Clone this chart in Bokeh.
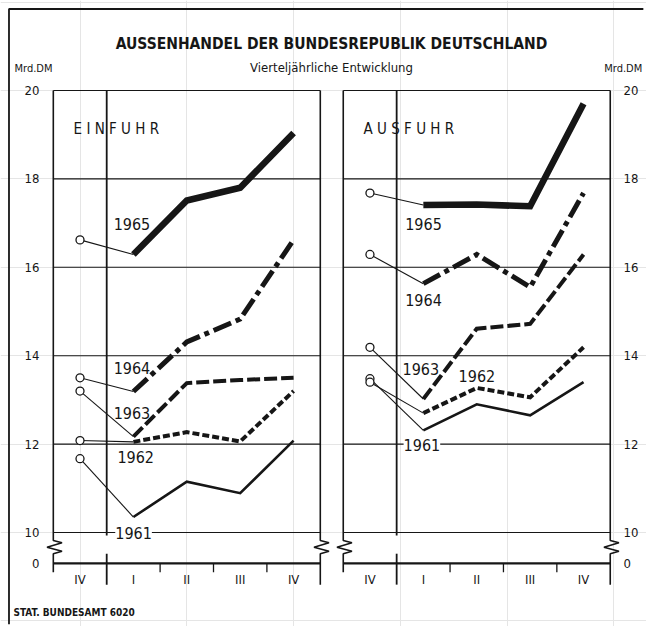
from bokeh.plotting import figure
from bokeh.models import Range1d, ColumnDataSource
from bokeh.embed import file_html
from bokeh.resources import INLINE
from bokeh.core.properties import value

# ---------------- data ----------------
quarters = ["IV", "I", "II", "III", "IV"]          # previous IV, then I..IV
quarter_pos = [0, 1, 2, 3, 4]
years = ["1961", "1962", "1963", "1964", "1965"]

einfuhr_1961 = [11.67, 10.35, 11.15, 10.89, 12.08]
einfuhr_1962 = [12.08, 12.05, 12.27, 12.06, 13.20]
einfuhr_1963 = [13.20, 12.17, 13.38, 13.45, 13.50]
einfuhr_1964 = [13.50, 13.19, 14.31, 14.83, 16.62]
einfuhr_1965 = [16.62, 16.29, 17.51, 17.80, 19.04]

ausfuhr_1961 = [13.48, 12.31, 12.90, 12.65, 13.40]
ausfuhr_1962 = [13.40, 12.70, 13.27, 13.06, 14.19]
ausfuhr_1963 = [14.19, 13.02, 14.61, 14.72, 16.29]
ausfuhr_1964 = [16.29, 15.63, 16.29, 15.55, 17.68]
ausfuhr_1965 = [17.68, 17.41, 17.42, 17.38, 19.70]

y_ticks = [20, 18, 16, 14, 12, 10, 0]
y_tick_labels = ["20", "18", "16", "14", "12", "10", "0"]
grid_values = [18, 16, 14, 12]

title = "AUSSENHANDEL DER BUNDESREPUBLIK DEUTSCHLAND"
subtitle = "Vierteljährliche Entwicklung"
unit = "Mrd.DM"
panel_names = ["E I N F U H R", "A U S F U H R"]
source_note = "STAT. BUNDESAMT 6020"

# ---------------- layout / style ----------------
FONT = "DejaVu Sans Condensed, Liberation Sans, sans-serif"
INK = "#161616"
ZERO_POS = 9.30            # where the broken axis puts "0"
OFFSETS = [0.0, 5.43]      # x offset of each panel
X0, X1 = -1.489, 10.609
Y0, Y1 = 7.873, 22.036
BX, BY = -1.330, 21.844    # outer border position
BX_END = 10.55

styles = {
    "1961": dict(line_width=2.6, line_dash="solid"),
    "1962": dict(line_width=4.0, line_dash="7 3"),
    "1963": dict(line_width=4.0, line_dash="13 4"),
    "1964": dict(line_width=5.0, line_dash="19 5 5 5"),
    "1965": dict(line_width=6.5, line_dash="solid"),
}
label_pos = [
    {"1965": (0.63, 16.97), "1964": (0.63, 13.73), "1963": (0.63, 12.71),
     "1962": (0.70, 11.70), "1961": (0.66, 9.99)},
    {"1965": (0.66, 16.97), "1964": (0.66, 15.27), "1963": (0.61, 13.71),
     "1962": (1.66, 13.53), "1961": (0.63, 11.98)},
]

p = figure(width=646, height=626, x_range=Range1d(X0, X1), y_range=Range1d(Y0, Y1),
           output_backend="svg", toolbar_location=None,
           x_axis_location=None, y_axis_location=None, min_border=0)
p.outline_line_color = None
p.background_fill_color = "white"
p.border_fill_color = "white"

# outer border (left, then top)
p.line(x=[BX, BX, BX_END], y=[Y0 + 0.05, BY, BY], line_color=INK, line_width=1.8)

def y_of(v):
    return v if v >= 10 else ZERO_POS

series = {
    0: [einfuhr_1961, einfuhr_1962, einfuhr_1963, einfuhr_1964, einfuhr_1965],
    1: [ausfuhr_1961, ausfuhr_1962, ausfuhr_1963, ausfuhr_1964, ausfuhr_1965],
}

for pi, off in enumerate(OFFSETS):
    xl, xr = off - 0.5, off + 4.5
    # grid lines
    gy = grid_values + [20, 10]
    p.segment(x0=[xl] * len(gy), x1=[xr] * len(gy), y0=gy, y1=gy,
              line_color=INK, line_width=1.1)
    # baseline (0)
    p.segment(x0=[xl], x1=[xr], y0=[ZERO_POS], y1=[ZERO_POS], line_color=INK, line_width=2.2)
    # frame edges with zig-zag break
    for xe, bottom in ((xl, 9.1), (xr, 8.82)):
        zx = [xe, xe, xe + 0.163, xe - 0.118, xe + 0.163, xe, xe]
        zy = [20, 9.82, 9.767, 9.667, 9.577, 9.518, bottom]
        p.line(zx, zy, line_color=INK, line_width=1.6)
    # divider between previous IV and I
    xd = off + 0.5
    p.segment(x0=[xd, xd], x1=[xd, xd], y0=[20, 9.52], y1=[9.93, 8.82],
              line_color=INK, line_width=1.8)
    # small ticks under baseline
    tk = [off + 1.5, off + 2.5, off + 3.5]
    p.segment(x0=tk, x1=tk, y0=[ZERO_POS] * 3, y1=[9.1] * 3, line_color=INK, line_width=1.3)
    # quarter labels
    p.text(x=[off + q for q in quarter_pos], y=[8.93] * 5, text=quarters,
           text_font=value(FONT), text_font_size="13px", text_align="center",
           text_baseline="middle", text_color=INK)
    # panel name
    p.text(x=[off - 0.12], y=[19.14], text=[panel_names[pi]], text_font=value(FONT),
           text_font_size="15px", text_align="left", text_baseline="middle", text_color=INK)

    # series
    for yr, vals in zip(years, series[pi]):
        st = styles[yr]
        xs = [off + q for q in quarter_pos]
        # leader line from previous IV
        p.line(xs[:2], vals[:2], line_color=INK, line_width=1.1)
        src = ColumnDataSource(dict(x=xs[1:], y=vals[1:]))
        p.line("x", "y", source=src, line_color=INK, line_width=st["line_width"],
               line_dash=st["line_dash"], line_join="miter")
        p.scatter(xs[:1], vals[:1], marker="circle", size=8, fill_color="white",
                  line_color=INK, line_width=1.3)
        lx, ly = label_pos[pi][yr]
        bg = "white" if yr == "1961" else None
        p.text(x=[off + lx], y=[ly], text=[yr], text_font=value(FONT),
               text_font_size="16px", text_align="left", text_baseline="middle",
               text_color=INK, background_fill_color=bg)

# y tick labels, left and right
p.text(x=[-0.76] * len(y_ticks), y=[y_of(v) for v in y_ticks], text=y_tick_labels,
       text_font=value(FONT), text_font_size="13px", text_align="right",
       text_baseline="middle", text_color=INK)
p.text(x=[10.178] * len(y_ticks), y=[y_of(v) for v in y_ticks], text=y_tick_labels,
       text_font=value(FONT), text_font_size="13px", text_align="left",
       text_baseline="middle", text_color=INK)

# titles
p.text(x=[4.71], y=[21.06], text=[title], text_font=value(FONT), text_font_size="15.5px",
       text_font_style="bold", text_align="center", text_baseline="middle", text_color=INK)
p.text(x=[4.71], y=[20.52], text=[subtitle], text_font=value(FONT), text_font_size="13px",
       text_align="center", text_baseline="middle", text_color=INK)
p.text(x=[-1.227], y=[20.5], text=[unit], text_font=value(FONT), text_font_size="11px",
       text_align="left", text_baseline="middle", text_color=INK)
p.text(x=[10.53], y=[20.5], text=[unit], text_font=value(FONT), text_font_size="11px",
       text_align="right", text_baseline="middle", text_color=INK)
p.text(x=[-1.245], y=[8.19], text=[source_note], text_font=value(FONT), text_font_size="10px",
       text_font_style="bold", text_align="left", text_baseline="middle", text_color=INK)

open("out.html", "w").write(file_html(p, INLINE))
